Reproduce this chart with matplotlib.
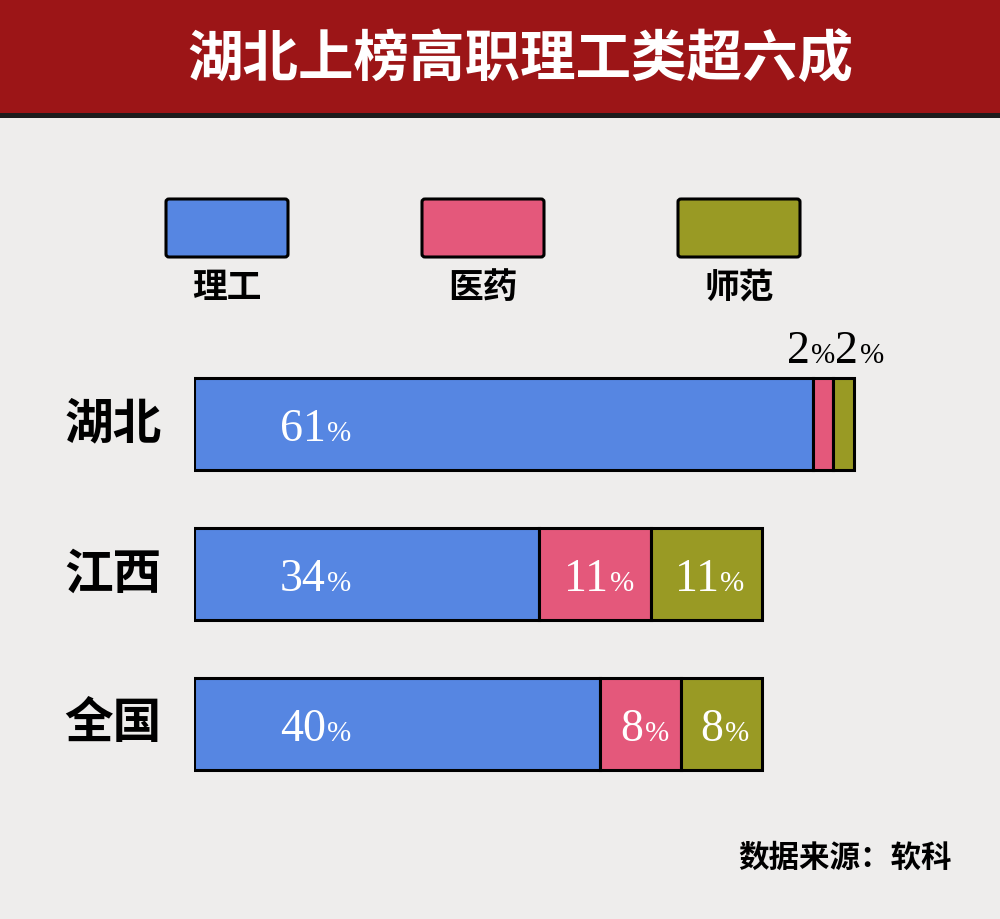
import matplotlib.pyplot as plt
from matplotlib.patches import Rectangle, FancyBboxPatch
from matplotlib.offsetbox import TextArea, HPacker, AnnotationBbox
import numpy as np

plt.rcParams['font.family'] = ['Noto Sans CJK SC', 'DejaVu Sans']

# data
TITLE = '湖北上榜高职理工类超六成'
SOURCE = '数据来源：软科'
regions = ['湖北', '江西', '全国']
series = ['理工', '医药', '师范']
ligong = [61, 34, 40]
yiyao = [2, 11, 8]
shifan = [2, 11, 8]

colors = ['#5686e2', '#e4587b', '#999a24']
BG = '#eeedec'
W, H = 1000, 919

fig = plt.figure(figsize=(W / 100, H / 100), dpi=100, facecolor=BG)

# title band
fig.add_artist(Rectangle((0, 1 - 113 / H), 1, 113 / H, transform=fig.transFigure,
                         facecolor='#9c1517', edgecolor='none'))
fig.add_artist(Rectangle((0, 1 - 118 / H), 1, 5 / H, transform=fig.transFigure,
                         facecolor='#1c1c1c', edgecolor='none'))
fig.text(0.52, 1 - 60 / H, TITLE, color='white', fontsize=40, fontweight='bold',
         ha='center', va='center')

# legend boxes
for i, (name, c) in enumerate(zip(series, colors)):
    x0 = 166 + i * 256
    box = FancyBboxPatch((x0 / W, 1 - 257 / H), 122 / W, 58 / H,
                         boxstyle='round,pad=0,rounding_size=0.003',
                         transform=fig.transFigure, fc=c, ec='black', lw=2.2)
    fig.add_artist(box)
    fig.text((x0 + 61) / W, 1 - 287 / H, name, fontsize=25, fontweight='bold',
             ha='center', va='center')

# stacked bars
ax = fig.add_axes([194 / W, 1 - 799 / H, 78 * 10.15 / W, 450 / H])
ax.set_facecolor('none')
y = np.arange(len(regions))
left = np.zeros(len(regions))
segs = [ligong, yiyao, shifan]
for vals, c in zip(segs, colors):
    ax.barh(y, vals, left=left, height=0.615, color=c, edgecolor='black', linewidth=2.2)
    left = left + np.array(vals)
ax.set_xlim(0, 78)
ax.set_ylim(2.5, -0.5)
ax.axis('off')

for yi, name in zip(y, regions):
    ax.text(-8, yi, name, ha='center', va='center', fontsize=35, fontweight='bold',
            clip_on=False)


def pct_label(x, yv, value, color, align=(0.5, 0.5)):
    num = TextArea(str(value), textprops=dict(family='Liberation Serif', fontsize=33, color=color))
    pct = TextArea('%', textprops=dict(family='Liberation Serif', fontsize=21, color=color))
    pack = HPacker(children=[num, pct], align='baseline', pad=0, sep=1)
    ab = AnnotationBbox(pack, (x, yv), xycoords='data', frameon=False,
                        box_alignment=align, pad=0, annotation_clip=False)
    ax.add_artist(ab)


dy = 0.04
for i in range(len(regions)):
    pct_label(12.0, y[i] + dy, ligong[i], 'white')
    if yiyao[i] >= 5:
        pct_label(ligong[i] + yiyao[i] / 2 + 0.4, y[i] + dy, yiyao[i], 'white')
        pct_label(ligong[i] + yiyao[i] + shifan[i] / 2 + 0.3, y[i] + dy, shifan[i], 'white')
    else:
        edge = ligong[i] + yiyao[i]
        pct_label(edge + 0.2, y[i] - 0.48, yiyao[i], 'black', align=(1, 0.5))
        pct_label(edge + 0.2, y[i] - 0.48, shifan[i], 'black', align=(0, 0.5))

fig.text(952 / W, 1 - 858 / H, SOURCE, ha='right', va='center', fontsize=22,
         fontweight='bold')

fig.savefig('out.png', dpi=100, facecolor=BG)
